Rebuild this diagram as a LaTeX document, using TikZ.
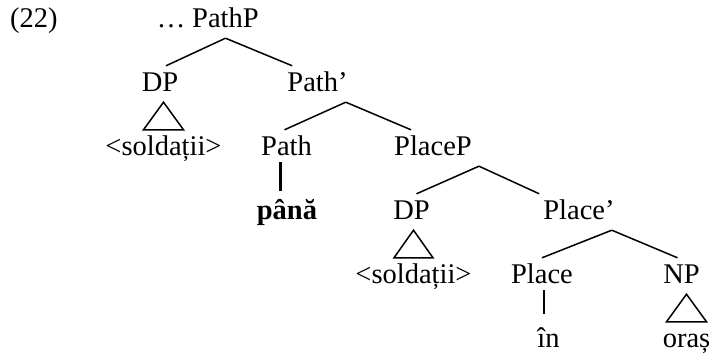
\documentclass[tikz,border=0pt]{standalone}
\usepackage{fontspec}
\setmainfont{Liberation Serif}
\tikzset{
  lab/.style={anchor=base,inner sep=4pt,text height=22pt,text depth=6pt,font=\fontsize{28.5}{34}\selectfont},
  branch/.style={line width=1.5pt},
  stem/.style={line width=2.3pt}
}
\begin{document}
\begin{tikzpicture}[x=1pt,y=1pt]
\useasboundingbox (0,0) rectangle (715,356);

\node[lab,anchor=base west] (ex) at (6,328) {(22)};
\node[lab] (dots) at (171,328) {…};
\node[lab] (pathp) at (225.5,328) {PathP};

\node[lab] (dp1) at (160,264) {DP};
\node[lab] (pathbar) at (317.5,264) {Path'};

\node[lab] (sold1) at (163.5,200) {\textless soldații\textgreater};
\node[lab] (path) at (286.5,200) {Path};
\node[lab] (placep) at (433,200) {PlaceP};

\node[lab,font=\fontsize{28.5}{34}\selectfont\bfseries] (panaw) at (287,136) {până};
\node[lab] (dp2) at (411.5,136) {DP};
\node[lab] (placebar) at (579,136) {Place'};

\node[lab] (sold2) at (413.5,72) {\textless soldații\textgreater};
\node[lab] (place) at (542,72) {Place};
\node[lab] (np) at (681.5,72) {NP};

\node[lab] (inw) at (548.5,8) {în};
\node[lab] (orasw) at (686.5,8) {oraș};

\draw[branch] (pathp.south) -- ([xshift=6pt]dp1.north);
\draw[branch] (pathp.south) -- ([xshift=9pt]pathbar.north west);
\draw[branch] ([xshift=-6pt]pathbar.south east) -- ([xshift=-2pt]path.north);
\draw[branch] ([xshift=-6pt]pathbar.south east) -- ([xshift=21pt]placep.north west);
\draw[branch] ([xshift=3pt]placep.south east) -- ([xshift=5pt]dp2.north);
\draw[branch] ([xshift=3pt]placep.south east) -- (placebar.north west);
\draw[branch] ([xshift=-7pt]placebar.south east) -- (place.north);
\draw[branch] ([xshift=-7pt]placebar.south east) -- ([xshift=-4pt]np.north);

\draw[branch] (sold1.north |- dp1.south) -- ([xshift=-20pt]sold1.north) -- ([xshift=20pt]sold1.north) -- cycle;
\draw[branch] (sold2.north |- dp2.south) -- ([xshift=-19.5pt]sold2.north) -- ([xshift=19.5pt]sold2.north) -- cycle;
\draw[branch] (orasw.north |- np.south) -- ([xshift=-20pt]orasw.north) -- ([xshift=20pt]orasw.north) -- cycle;

\draw[stem,shorten >=3pt] ([shift={(-6pt,4pt)}]path.south) -- ([xshift=-6pt]path.south |- panaw.north);
\draw[stem,shorten >=8pt] ([shift={(2pt,4pt)}]place.south) -- ([xshift=2pt]place.south |- inw.north);

\end{tikzpicture}
\end{document}
